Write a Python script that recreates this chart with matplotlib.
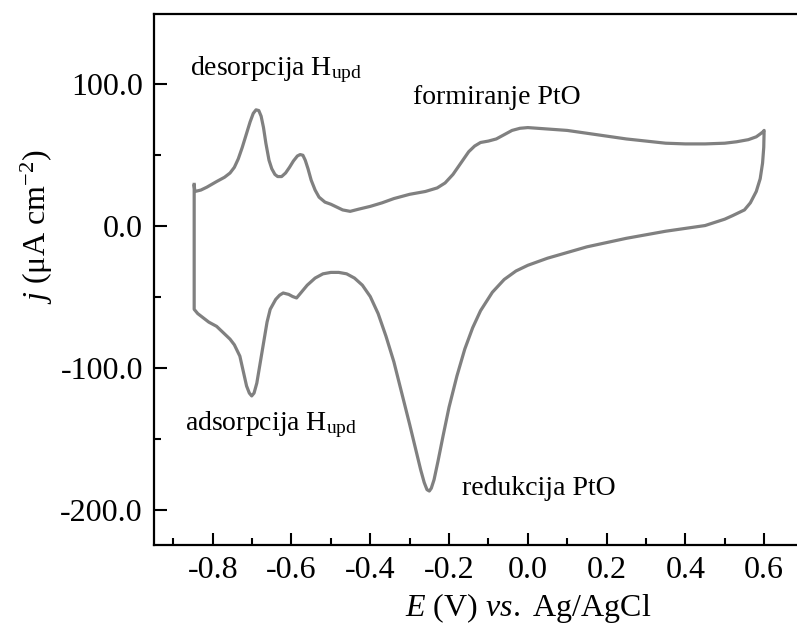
import numpy as np
import matplotlib.pyplot as plt
from matplotlib.ticker import MultipleLocator

plt.rcParams['font.family'] = 'Liberation Serif'
plt.rcParams['mathtext.fontset'] = 'custom'
plt.rcParams['mathtext.rm'] = 'Liberation Serif'
plt.rcParams['mathtext.it'] = 'Liberation Serif:italic'

# anodic sweep (upper branch), E in V vs Ag/AgCl, j in uA cm-2
E_anodic = [-0.847, -0.845, -0.83, -0.815, -0.79, -0.77, -0.756, -0.745, -0.735, -0.725,
            -0.715, -0.705, -0.697, -0.69, -0.683, -0.677, -0.671, -0.665, -0.657, -0.65,
            -0.642, -0.635, -0.625, -0.615, -0.605, -0.595, -0.585, -0.578, -0.571, -0.565,
            -0.558, -0.55, -0.54, -0.53, -0.515, -0.50, -0.485, -0.47, -0.451, -0.43,
            -0.40, -0.37, -0.34, -0.30, -0.26, -0.23, -0.21, -0.19, -0.17, -0.15,
            -0.135, -0.12, -0.10, -0.08, -0.06, -0.04, -0.02, 0.0, 0.05, 0.1,
            0.15, 0.2, 0.25, 0.3, 0.35, 0.4, 0.45, 0.5, 0.53, 0.56,
            0.58, 0.59, 0.597, 0.6]
j_anodic = [28, 24, 25, 27, 31, 34, 37, 41, 47, 55,
            64, 73, 79, 81.5, 81, 77, 69, 58, 46, 40,
            36, 34.5, 34.5, 37, 41, 45.5, 49, 50, 49.5, 46,
            40, 32, 25, 20, 16.5, 15, 13, 11, 10, 11.5,
            13.5, 16, 19, 22, 24, 26.5, 30, 36, 44, 52,
            56, 58.5, 59.5, 61, 64, 67, 68.5, 69, 68, 67,
            65, 63, 61, 59.5, 58, 57.5, 57.5, 58, 59, 60.5,
            62.5, 64.5, 66, 67]

# cathodic sweep (lower branch)
E_cathodic = [0.599, 0.596, 0.59, 0.58, 0.565, 0.55, 0.52, 0.5, 0.45, 0.4,
              0.35, 0.3, 0.25, 0.2, 0.15, 0.1, 0.05, 0.0, -0.03, -0.06,
              -0.09, -0.12, -0.14, -0.16, -0.18, -0.20, -0.215, -0.228, -0.238, -0.245,
              -0.25, -0.256, -0.263, -0.272, -0.285, -0.30, -0.32, -0.34, -0.36, -0.38,
              -0.40, -0.42, -0.44, -0.46, -0.48, -0.50, -0.52, -0.54, -0.56, -0.575,
              -0.587, -0.597, -0.607, -0.621, -0.63, -0.64, -0.654, -0.662, -0.671, -0.68,
              -0.688, -0.695, -0.701, -0.707, -0.714, -0.722, -0.731, -0.745, -0.756, -0.775,
              -0.79, -0.81, -0.824, -0.838, -0.847, -0.847]
j_cathodic = [55, 44, 33, 24, 16, 11, 7, 4.5, 0, -2,
              -4, -6.5, -9, -12, -15, -19, -23, -28, -32, -38,
              -47, -60, -72, -87, -106, -128, -148, -166, -179, -185,
              -187, -186, -181, -172, -157, -140, -118, -96, -78, -62,
              -50, -42, -37, -34, -33, -33, -34, -37, -42, -47,
              -51, -50, -48.5, -47.5, -49, -52, -59, -68, -83, -98,
              -111, -118, -120, -118, -113, -103, -92, -84, -80, -75,
              -71, -68, -65, -62, -59, 29]

E = E_anodic + E_cathodic
j = j_anodic + j_cathodic

fig = plt.figure(figsize=(7.97, 6.37), dpi=100)
# axes runs past the right edge of the figure, as in the cropped original
ax = fig.add_axes([154/797, 92/637, 748/797, 531/637])

ax.plot(E, j, color='#808080', linewidth=2.3)

ax.set_xlim(-0.949, 0.950)
ax.set_ylim(-225, 149)
ax.yaxis.set_major_locator(MultipleLocator(100))
ax.yaxis.set_minor_locator(MultipleLocator(50))
ax.set_xticks([-0.8, -0.6, -0.4, -0.2, 0.0, 0.2, 0.4, 0.6])
ax.set_xticks(np.round(np.arange(-0.9, 0.95, 0.1), 1), minor=True)
ax.xaxis.set_major_formatter(lambda v, p: f'{v:.1f}'.replace('-0.0', '0.0'))
ax.yaxis.set_major_formatter(lambda v, p: f'{v:.1f}')

for s in ax.spines.values():
    s.set_linewidth(1.6)
ax.tick_params(which='both', direction='in', width=1.5, labelsize=23, top=False, right=False)
ax.tick_params(which='major', length=9, pad=8)
ax.tick_params(which='minor', length=5)

ax.set_xlabel(r'$E$ (V) $vs.$ Ag/AgCl', fontsize=23, labelpad=4)
ax.set_ylabel(r'$j$ (μA cm$^{-2}$)', fontsize=23)
ax.yaxis.set_label_coords(-0.132, 0.60)

ax.text(-0.858, 110, r'desorpcija H$_{\mathrm{upd}}$', fontsize=20, va='center')
ax.text(-0.291, 90, 'formiranje PtO', fontsize=20, va='center')
ax.text(-0.870, -140, r'adsorpcija H$_{\mathrm{upd}}$', fontsize=20, va='center')
ax.text(-0.167, -185, 'redukcija PtO', fontsize=20, va='center')

fig.savefig('out.png', dpi=100)
